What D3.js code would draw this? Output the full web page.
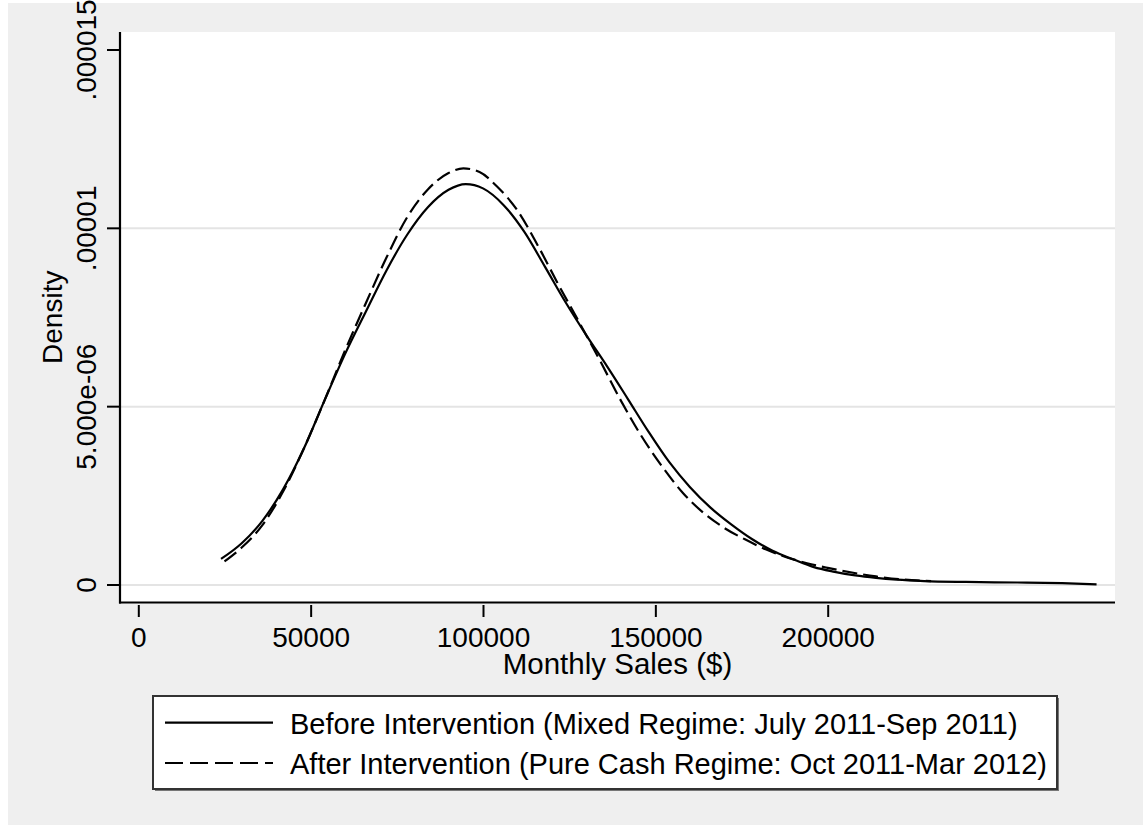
<!DOCTYPE html>
<html>
<head>
<meta charset="utf-8">
<script src="https://cdn.jsdelivr.net/npm/d3@7"></script>
<style>
  html, body { margin: 0; padding: 0; background: #ffffff; }
  svg { display: block; }
  text { font-family: "Liberation Sans", Arial, sans-serif; fill: #000; }
</style>
</head>
<body>
<svg id="chart" width="1143" height="825"></svg>
<script>
// ---- Data ----
const xTicks = [0, 50000, 100000, 150000, 200000];
const xTickLabels = ["0", "50000", "100000", "150000", "200000"];
const yTicks = [0, 5e-6, 1e-5, 1.5e-5];
const yTickLabels = ["0", "5.000e-06", ".00001", ".000015"];
const yGrid = [0, 5e-6, 1e-5];

const seriesNames = [
  "Before Intervention (Mixed Regime: July 2011-Sep 2011)",
  "After Intervention (Pure Cash Regime: Oct 2011-Mar 2012)"
];

// Before intervention: monthly sales ($) and kernel density
const beforeX = [24000, 30000, 36000, 42000, 48000, 54000, 60000, 66000, 72000, 78000,
  84000, 90000, 95000, 100000, 106000, 112000, 118000, 124000, 130000, 136000,
  142000, 148000, 154000, 160000, 166000, 172000, 178000, 184000, 190000, 196000,
  202000, 208000, 214000, 220000, 228000, 240000, 255000, 268000, 278000];
const beforeY = [0.73e-6, 1.17e-6, 1.80e-6, 2.68e-6, 3.82e-6, 5.17e-6, 6.48e-6, 7.66e-6, 8.82e-6, 9.82e-6,
  10.59e-6, 11.08e-6, 11.24e-6, 11.12e-6, 10.65e-6, 9.90e-6, 8.92e-6, 7.92e-6, 7.00e-6, 6.13e-6,
  5.22e-6, 4.30e-6, 3.45e-6, 2.75e-6, 2.17e-6, 1.70e-6, 1.29e-6, 0.96e-6, 0.72e-6, 0.50e-6,
  0.37e-6, 0.27e-6, 0.20e-6, 0.15e-6, 0.11e-6, 0.085e-6, 0.07e-6, 0.05e-6, 0.02e-6];

// After intervention
const afterX = [25000, 30000, 36000, 42000, 48000, 54000, 60000, 66000, 72000, 78000,
  84000, 90000, 94300, 99000, 104000, 110000, 116000, 122000, 128000, 134000,
  140000, 146000, 152000, 158000, 164000, 170000, 176000, 182000, 188000, 194000,
  200000, 207000, 214000, 221000, 230000];
const afterY = [0.66e-6, 1.05e-6, 1.68e-6, 2.62e-6, 3.82e-6, 5.17e-6, 6.58e-6, 7.90e-6, 9.18e-6, 10.31e-6,
  11.09e-6, 11.55e-6, 11.68e-6, 11.58e-6, 11.18e-6, 10.50e-6, 9.50e-6, 8.40e-6, 7.35e-6, 6.28e-6,
  5.17e-6, 4.17e-6, 3.32e-6, 2.58e-6, 2.02e-6, 1.60e-6, 1.28e-6, 1.00e-6, 0.78e-6, 0.61e-6,
  0.48e-6, 0.35e-6, 0.24e-6, 0.16e-6, 0.11e-6];

// ---- Layout ----
const svg = d3.select("#chart");
const plot = { left: 120, right: 1115, top: 32, bottom: 602.5 };
const FS = 28;

// outer gray background
svg.append("rect").attr("x", 8).attr("y", 3).attr("width", 1135).attr("height", 822).attr("fill", "#efefef");
// plot region
svg.append("rect").attr("x", plot.left).attr("y", plot.top)
  .attr("width", plot.right - plot.left).attr("height", plot.bottom - plot.top).attr("fill", "#ffffff");

const x = d3.scaleLinear().domain([0, 200000]).range([138.3, 827.7]);
const y = d3.scaleLinear().domain([0, 1.5e-5]).range([585, 50]);

// gridlines
svg.append("g").selectAll("line").data(yGrid).join("line")
  .attr("x1", plot.left + 1).attr("x2", plot.right)
  .attr("y1", d => y(d)).attr("y2", d => y(d))
  .attr("stroke", "#e4e4e4").attr("stroke-width", 2);

// curves
const before = beforeX.map((v, i) => [v, beforeY[i]]);
const after = afterX.map((v, i) => [v, afterY[i]]);
const line = d3.line().x(d => x(d[0])).y(d => y(d[1])).curve(d3.curveMonotoneX);

svg.append("path").datum(before).attr("d", line)
  .attr("fill", "none").attr("stroke", "#000").attr("stroke-width", 2.2);
svg.append("path").datum(after).attr("d", line)
  .attr("fill", "none").attr("stroke", "#000").attr("stroke-width", 2.2)
  .attr("stroke-dasharray", "15,6");

// axes
const xAxis = d3.axisBottom(x).tickValues(xTicks).tickSize(12).tickPadding(12)
  .tickFormat((d, i) => xTickLabels[i]);
const gx = svg.append("g").attr("transform", `translate(0,${plot.bottom + 2.5})`).call(xAxis);
gx.select(".domain").remove();
gx.selectAll(".tick line").attr("stroke", "#000").attr("stroke-width", 2);
gx.selectAll(".tick text").attr("font-size", FS).attr("fill", "#000")
  .attr("font-family", "Liberation Sans, Arial, sans-serif").attr("dy", null).attr("y", 0)
  .attr("transform", "translate(0,42)");

const gy = svg.append("g");
gy.selectAll("line.tk").data(yTicks).join("line").attr("class", "tk")
  .attr("x1", 107).attr("x2", 119).attr("y1", d => y(d)).attr("y2", d => y(d))
  .attr("stroke", "#000").attr("stroke-width", 2);
gy.selectAll("text").data(yTicks).join("text")
  .attr("transform", d => `translate(96,${y(d)}) rotate(-90)`)
  .attr("text-anchor", "middle").attr("font-size", FS)
  .text((d, i) => yTickLabels[i]);

// axis lines
svg.append("line").attr("x1", plot.left).attr("x2", plot.left).attr("y1", plot.top).attr("y2", plot.bottom + 1)
  .attr("stroke", "#000").attr("stroke-width", 2.2);
svg.append("line").attr("x1", plot.left - 1).attr("x2", plot.right).attr("y1", plot.bottom).attr("y2", plot.bottom)
  .attr("stroke", "#000").attr("stroke-width", 2.2);

// axis titles
svg.append("text").attr("x", (plot.left + plot.right) / 2).attr("y", 674)
  .attr("text-anchor", "middle").attr("font-size", 29.5).text("Monthly Sales ($)");
svg.append("text").attr("transform", `translate(62,${(plot.top + plot.bottom) / 2}) rotate(-90)`)
  .attr("text-anchor", "middle").attr("font-size", FS).text("Density");

// legend
const lg = svg.append("g");
const lgBox = { x: 153, y: 696, w: 904, h: 93 };
lg.append("rect").attr("x", lgBox.x + 2).attr("y", lgBox.y + 2).attr("width", lgBox.w).attr("height", lgBox.h)
  .attr("fill", "#777");
lg.append("rect").attr("x", lgBox.x).attr("y", lgBox.y).attr("width", lgBox.w).attr("height", lgBox.h)
  .attr("fill", "#fff").attr("stroke", "#333").attr("stroke-width", 2);
const rowsY = [722.7, 763];
const dashes = [null, "18,7"];
seriesNames.forEach((name, i) => {
  lg.append("line").attr("x1", 165).attr("x2", 273).attr("y1", rowsY[i]).attr("y2", rowsY[i])
    .attr("stroke", "#000").attr("stroke-width", 2.2).attr("stroke-dasharray", dashes[i]);
  lg.append("text").attr("x", 290).attr("y", rowsY[i] + 11).attr("font-size", 29).text(name);
});
</script>
</body>
</html>
